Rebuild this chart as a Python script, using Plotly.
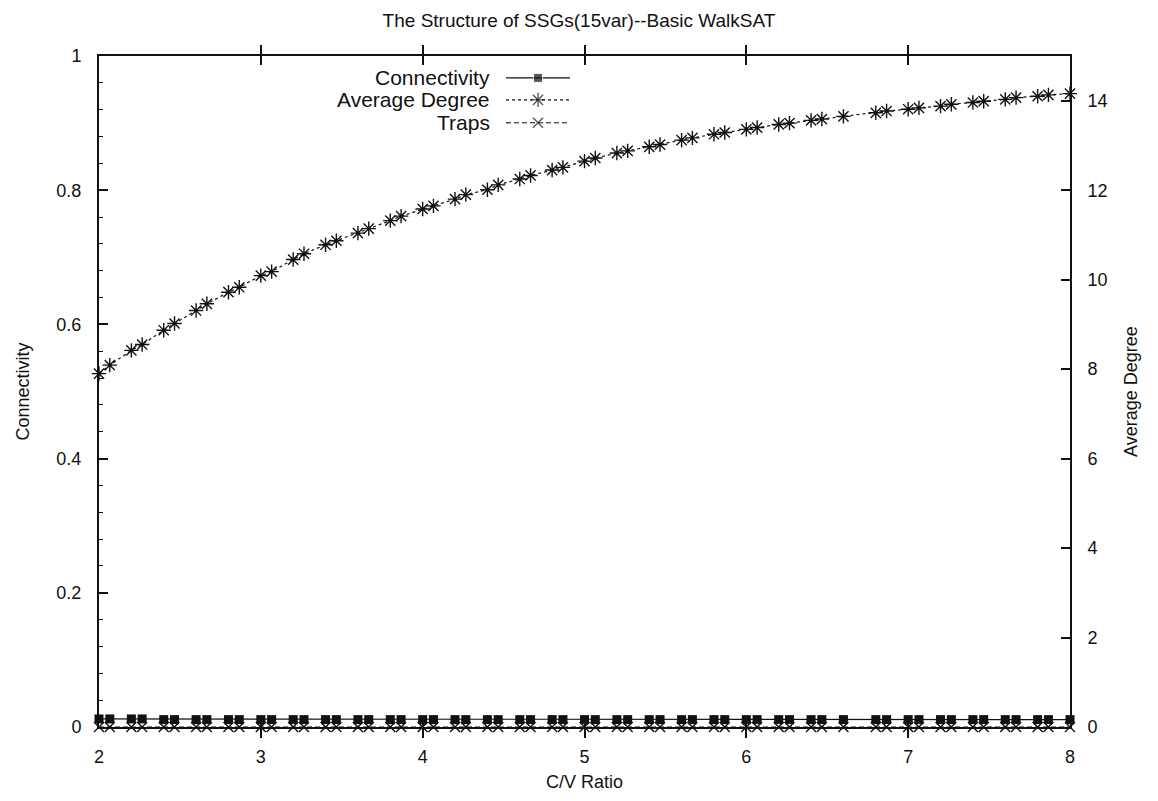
import plotly.graph_objects as go

# C/V ratio (clauses / 15 variables)
ratio = [2.0, 2.0667, 2.2, 2.2667, 2.4, 2.4667, 2.6, 2.6667, 2.8, 2.8667,
         3.0, 3.0667, 3.2, 3.2667, 3.4, 3.4667, 3.6, 3.6667, 3.8, 3.8667,
         4.0, 4.0667, 4.2, 4.2667, 4.4, 4.4667, 4.6, 4.6667, 4.8, 4.8667,
         5.0, 5.0667, 5.2, 5.2667, 5.4, 5.4667, 5.6, 5.6667, 5.8, 5.8667,
         6.0, 6.0667, 6.2, 6.2667, 6.4, 6.4667, 6.6, 6.8, 6.8667,
         7.0, 7.0667, 7.2, 7.2667, 7.4, 7.4667, 7.6, 7.6667, 7.8, 7.8667, 8.0]

connectivity = [0.012, 0.012, 0.012, 0.012, 0.011, 0.011, 0.011, 0.011, 0.011, 0.011,
                0.011, 0.011, 0.011, 0.011, 0.011, 0.011, 0.011, 0.011, 0.011, 0.011,
                0.011, 0.011, 0.011, 0.011, 0.011, 0.011, 0.011, 0.011, 0.011, 0.011,
                0.011, 0.011, 0.011, 0.011, 0.011, 0.011, 0.011, 0.011, 0.011, 0.011,
                0.011, 0.011, 0.011, 0.011, 0.011, 0.011, 0.011, 0.011, 0.011,
                0.011, 0.011, 0.011, 0.011, 0.011, 0.011, 0.011, 0.011, 0.011, 0.011, 0.011]

avg_degree = [7.90, 8.09, 8.42, 8.55, 8.87, 9.02, 9.31, 9.46, 9.72, 9.83,
              10.09, 10.18, 10.45, 10.58, 10.78, 10.87, 11.04, 11.14, 11.32, 11.42,
              11.58, 11.65, 11.80, 11.90, 12.01, 12.12, 12.25, 12.33, 12.45, 12.51,
              12.65, 12.72, 12.83, 12.88, 12.97, 13.02, 13.12, 13.17, 13.25, 13.29,
              13.36, 13.40, 13.47, 13.50, 13.56, 13.59, 13.65, 13.73, 13.77,
              13.81, 13.84, 13.88, 13.92, 13.96, 13.99, 14.03, 14.07, 14.10, 14.13, 14.16]

traps = [0.0, 0.0, 0.0, 0.0, 0.0, 0.0, 0.0, 0.0, 0.0, 0.0,
         0.0, 0.0, 0.0, 0.0, 0.0, 0.0, 0.0, 0.0, 0.0, 0.0,
         0.0, 0.0, 0.0, 0.0, 0.0, 0.0, 0.0, 0.0, 0.0, 0.0,
         0.0, 0.0, 0.0, 0.0, 0.0, 0.0, 0.0, 0.0, 0.0, 0.0,
         0.0, 0.0, 0.0, 0.0, 0.0, 0.0, 0.0, 0.0, 0.0,
         0.0, 0.0, 0.0, 0.0, 0.0, 0.0, 0.0, 0.0, 0.0, 0.0, 0.0]

x_ticks = [2, 3, 4, 5, 6, 7, 8]
y_ticks = [0, 0.2, 0.4, 0.6, 0.8, 1]
y2_ticks = [0, 2, 4, 6, 8, 10, 12, 14]

FONT = "Liberation Sans, Arial, Helvetica, sans-serif"
INK = "#111111"

W, H = 1158, 801
L, R, T, B = 99, 1070, 56, 729.5   # plot box in pixels

styles = {
    "Connectivity": dict(line=dict(color=INK, width=1.2),
                         marker=dict(symbol="square", size=9, color=INK)),
    "Average Degree": dict(line=dict(color=INK, width=1.2, dash="3px,3px"),
                           marker=dict(symbol="asterisk-open", size=12,
                                       line=dict(color=INK, width=1.4))),
    "Traps": dict(line=dict(color=INK, width=1.2, dash="5px,3px"),
                  marker=dict(symbol="x-thin-open", size=10,
                              line=dict(color=INK, width=1.4))),
}

fig = go.Figure()
fig.add_trace(go.Scatter(x=ratio, y=connectivity, mode="lines+markers",
                         cliponaxis=False, showlegend=False,
                         **styles["Connectivity"]))
fig.add_trace(go.Scatter(x=ratio, y=avg_degree, mode="lines+markers",
                         yaxis="y2", cliponaxis=False, showlegend=False,
                         **styles["Average Degree"]))
fig.add_trace(go.Scatter(x=ratio, y=traps, mode="lines+markers",
                         cliponaxis=False, showlegend=False,
                         **styles["Traps"]))

# key drawn gnuplot-style: label, then a sample line with one point in the middle
key_rows = [("Connectivity", 78), ("Average Degree", 100), ("Traps", 123)]
key_text_right = 492
key_line = (506, 570)
annotations = []
for name, py in key_rows:
    st = styles[name]
    mk = dict(st["marker"])
    mk["size"] = [0, mk["size"], 0]
    fig.add_trace(go.Scatter(
        x=[key_line[0], (key_line[0] + key_line[1]) / 2, key_line[1]],
        y=[py, py, py], xaxis="x3", yaxis="y3", mode="lines+markers",
        line=st["line"], marker=mk, showlegend=False, hoverinfo="skip",
        cliponaxis=False))
    annotations.append(dict(text=name, xref="x3", yref="y3", x=key_text_right, y=py,
                            xanchor="right", yanchor="middle", showarrow=False,
                            font=dict(family=FONT, size=21, color=INK)))

axis_common = dict(showline=True, linecolor=INK, linewidth=2, ticks="inside",
                   ticklen=9, tickwidth=1.5, tickcolor=INK, showgrid=False,
                   zeroline=False,
                   tickfont=dict(family=FONT, size=18, color=INK),
                   title_font=dict(family=FONT, size=18, color=INK))

fig.update_layout(
    width=W, height=H,
    margin=dict(l=L, r=W - R, t=T, b=H - B),
    paper_bgcolor="white", plot_bgcolor="white",
    title=dict(text="The Structure of SSGs(15var)--Basic WalkSAT", x=0.5, xanchor="center",
               y=1 - 20 / H, yanchor="middle",
               font=dict(family=FONT, size=19, color=INK)),
    xaxis=dict(range=[2, 8], tickvals=x_ticks, mirror="allticks",
               ticklabelstandoff=12,
               title=dict(text="C/V Ratio", standoff=10), **axis_common),
    yaxis=dict(range=[0, 1], tickvals=y_ticks, ticklabelstandoff=12,
               minor=dict(ticks="inside", dtick=0.04, ticklen=4, tickwidth=1, tickcolor=INK),
               title=dict(text="Connectivity", standoff=22), **axis_common),
    yaxis2=dict(range=[0, 15], tickvals=y2_ticks, overlaying="y", side="right",
                ticklabelstandoff=12,
                title=dict(text="Average Degree", standoff=18), **axis_common),
    xaxis3=dict(range=[L, R], overlaying="x", visible=False, fixedrange=True),
    yaxis3=dict(range=[B, T], overlaying="y", visible=False, fixedrange=True),
    annotations=annotations,
)

fig.write_html("out.html")
